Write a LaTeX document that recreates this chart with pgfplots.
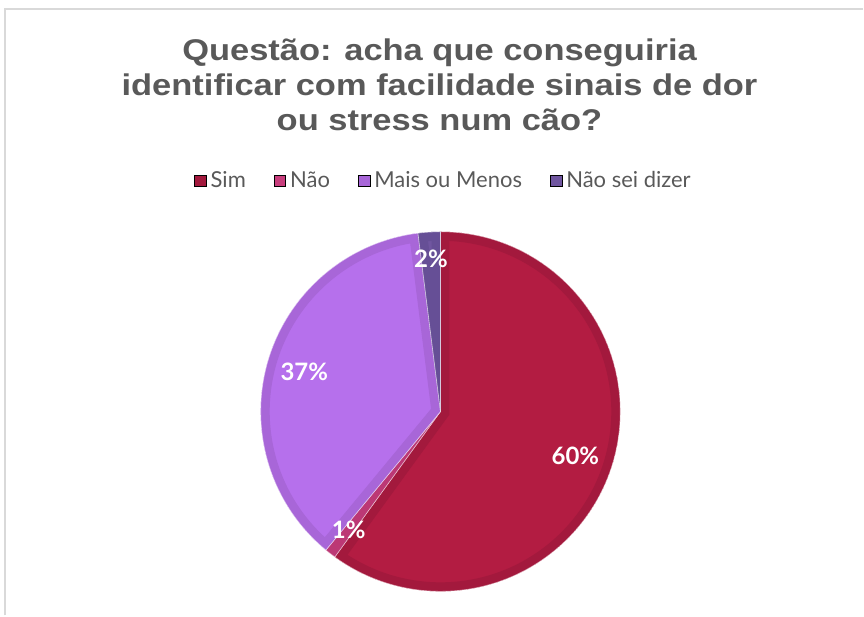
\documentclass[border=0pt]{standalone}
\usepackage{pgfplots}
\pgfplotsset{compat=1.18}
\usepackage{pgfplotstable}
\usepackage{fontspec}
\setmainfont{Lato}
\newfontfamily\titlefont[FakeStretch=1.15]{Liberation Sans}

\definecolor{simF}{RGB}{179,28,66}
\definecolor{simB}{RGB}{163,25,61}
\definecolor{naoF}{RGB}{200,62,125}
\definecolor{naoB}{RGB}{188,56,117}
\definecolor{maisF}{RGB}{182,112,236}
\definecolor{maisB}{RGB}{168,102,216}
\definecolor{nsdF}{RGB}{112,86,160}
\definecolor{nsdB}{RGB}{102,79,150}
\definecolor{txt}{RGB}{89,89,89}
\definecolor{frame}{RGB}{217,217,217}

\tikzset{plab/.style={text=white, font=\bfseries\fontsize{12}{14}\selectfont}}

% percent of answers, label radius (px)
\pgfplotstableread[col sep=comma]{
label,value,lr
Sim,60,142
Não,1,150
Mais ou Menos,37,142
Não sei dizer,2,153
}\piedata

\pgfplotstablegetelem{0}{value}\of\piedata \let\vA\pgfplotsretval
\pgfplotstablegetelem{1}{value}\of\piedata \let\vB\pgfplotsretval
\pgfplotstablegetelem{2}{value}\of\piedata \let\vC\pgfplotsretval
\pgfplotstablegetelem{3}{value}\of\piedata \let\vD\pgfplotsretval
\pgfplotstablegetelem{0}{lr}\of\piedata \let\rA\pgfplotsretval
\pgfplotstablegetelem{1}{lr}\of\piedata \let\rB\pgfplotsretval
\pgfplotstablegetelem{2}{lr}\of\piedata \let\rC\pgfplotsretval
\pgfplotstablegetelem{3}{lr}\of\piedata \let\rD\pgfplotsretval

\pgfmathsetmacro\aA{90}
\pgfmathsetmacro\aB{\aA-3.6*\vA}
\pgfmathsetmacro\aC{\aB-3.6*\vB}
\pgfmathsetmacro\aD{\aC-3.6*\vC}
\pgfmathsetmacro\aE{\aD-3.6*\vD}

% slice: start, end, fill, border
\newcommand\slice[4]{%
  \begin{scope}
    \clip (axis cs:441,204) -- ++(#1:90pt) arc[start angle=#1, end angle=#2, radius=90pt] -- cycle;
    \fill[#3] (axis cs:441,204) -- ++(#1:90pt) arc[start angle=#1, end angle=#2, radius=90pt] -- cycle;
    \draw[#4, line width=9pt] (axis cs:441,204) -- ++(#1:90pt) arc[start angle=#1, end angle=#2, radius=90pt] -- cycle;
  \end{scope}
  \draw[white, opacity=0.6, line width=0.3pt, line join=round] (axis cs:441,204) -- ++(#1:90pt) arc[start angle=#1, end angle=#2, radius=90pt] -- cycle;
}
% label: start, end, value, radius(px) -- expanded now, axis draws later
\newcommand\plabel[4]{%
  \pgfmathsetmacro\mid{(#1+#2)/2}%
  \pgfmathsetmacro\rr{#4/2}%
  \edef\tmp{\noexpand\path (axis cs:441,204) ++(\mid:\rr pt) node[plab] {#3\noexpand\%};}%
  \tmp
}

\begin{document}
\begin{tikzpicture}
\begin{axis}[
    width=432pt, height=308pt, scale only axis,
    xmin=0, xmax=864, ymin=0, ymax=616,
    hide axis, clip=false,
    legend style={draw=none, fill=none, at={(axis cs:445,435)}, anchor=center,
      legend columns=-1, font=\fontsize{11}{13}\selectfont, text=txt,
      /tikz/every even column/.append style={column sep=12pt},
      nodes={inner xsep=2pt}},
    legend image code/.code={\fill[#1] (0pt,-2.9pt) rectangle (5.8pt,2.9pt);},
]
\path (axis cs:0,0) rectangle (axis cs:864,616);
\draw[frame, line width=1pt] (axis cs:5,0) -- (axis cs:5,607) -- (axis cs:864,607);
\node[align=center, text=txt, font=\titlefont\bfseries\fontsize{15}{17.5}\selectfont]
  at (axis cs:440,531) {Questão: acha que conseguiria\\identificar com facilidade sinais de dor\\ou stress num cão?};

\slice{\aA}{\aB}{simF}{simB}
\slice{\aB}{\aC}{naoF}{naoB}
\slice{\aC}{\aD}{maisF}{maisB}
\slice{\aD}{\aE}{nsdF}{nsdB}

\plabel{\aA}{\aB}{\vA}{\rA}
\plabel{\aB}{\aC}{\vB}{\rB}
\plabel{\aC}{\aD}{\vC}{\rC}
\plabel{\aD}{\aE}{\vD}{\rD}

\addlegendimage{fill=simB}\addlegendentry{Sim}
\addlegendimage{fill=naoF}\addlegendentry{Não}
\addlegendimage{fill=maisB}\addlegendentry{Mais ou Menos}
\addlegendimage{fill=nsdF}\addlegendentry{Não sei dizer}
\end{axis}
\end{tikzpicture}
\end{document}
